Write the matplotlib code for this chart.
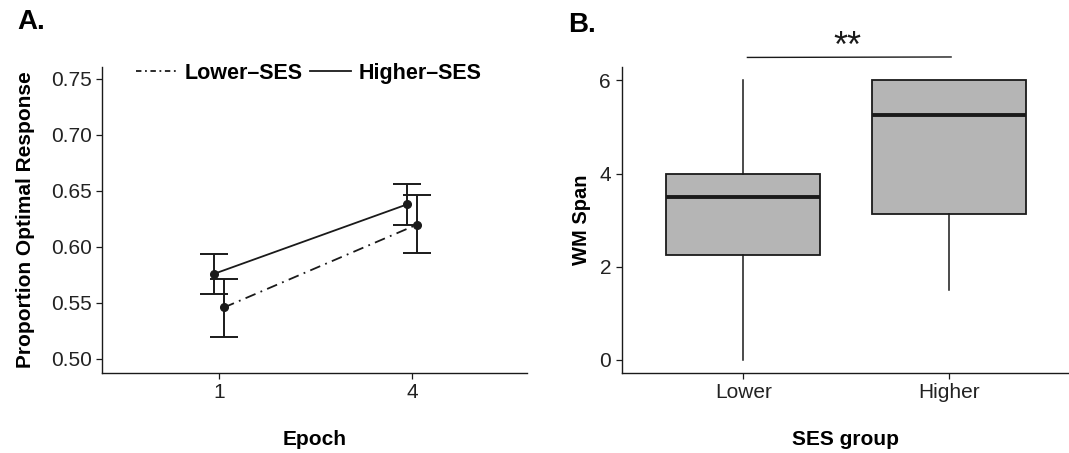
import numpy as np
import matplotlib.pyplot as plt
from matplotlib.lines import Line2D

plt.rcParams['font.family'] = ['Liberation Sans', 'DejaVu Sans']

# Panel A: proportion optimal response by epoch
epochs = ['1', '4']
higher_mean = [0.576, 0.638]
higher_lo = [0.558, 0.620]
higher_hi = [0.594, 0.656]
lower_mean = [0.546, 0.620]
lower_lo = [0.520, 0.595]
lower_hi = [0.571, 0.646]

# Panel B: WM span box summaries
groups = ['Lower', 'Higher']
wm_whislo = [0.0, 1.5]
wm_q1 = [2.25, 3.125]
wm_med = [3.5, 5.25]
wm_q3 = [4.0, 6.0]
wm_whishi = [6.0, 6.0]

ink = '#1a1a1a'
fig = plt.figure(figsize=(10.69, 4.53), dpi=100)
axA = fig.add_axes([102/1069, 1-373/453, (527-102)/1069, (373-67)/453])
axB = fig.add_axes([621.5/1069, 1-373/453, (1069-621.5)/1069, (373-67)/453])

for ax in (axA, axB):
    for s in ('top', 'right'):
        ax.spines[s].set_visible(False)
    for s in ('left', 'bottom'):
        ax.spines[s].set_linewidth(1.0)
        ax.spines[s].set_color(ink)
    ax.tick_params(labelsize=15, length=4, width=0.9, color=ink, labelcolor='#222222')

# ---- Panel A
xpos = np.arange(len(epochs))
dodge = 0.026
xh = xpos - dodge
xl = xpos + dodge
axA.errorbar(xh, higher_mean,
             yerr=[np.array(higher_mean) - higher_lo, np.array(higher_hi) - higher_mean],
             fmt='none', ecolor=ink, elinewidth=1.4, capsize=10, capthick=1.4)
axA.errorbar(xl, lower_mean,
             yerr=[np.array(lower_mean) - lower_lo, np.array(lower_hi) - lower_mean],
             fmt='none', ecolor=ink, elinewidth=1.4, capsize=10, capthick=1.4)
axA.plot(xh, higher_mean, color=ink, lw=1.3, ls='-', marker='o', ms=5.5)
axA.plot(xl, lower_mean, color=ink, lw=1.3, ls=(0, (6, 3, 1, 3)), marker='o', ms=5.5)
axA.set_xlim(-0.606, 1.596)
axA.set_ylim(0.4875, 0.7607)
axA.set_xticks(xpos)
axA.set_xticklabels(epochs)
axA.set_yticks([0.50, 0.55, 0.60, 0.65, 0.70, 0.75])
axA.set_yticklabels(['0.50', '0.55', '0.60', '0.65', '0.70', '0.75'])
axA.set_xlabel('Epoch', fontsize=15, fontweight='bold', labelpad=20)
axA.set_ylabel('Proportion Optimal Response', fontsize=15, fontweight='bold', labelpad=11)

# legend: dash-dot Lower first, then solid Higher
hnd = [Line2D([], [], color=ink, lw=1.3, ls=(0, (3, 2, 1, 2))),
       Line2D([], [], color=ink, lw=1.3, ls='-')]
axA.legend(hnd, ['Lower\u2013SES', 'Higher\u2013SES'], ncol=2, frameon=False,
           loc='center', bbox_to_anchor=(0.487, 0.98), prop={'weight': 'bold', 'size': 15.5},
           handlelength=1.9, handletextpad=0.35, columnspacing=0.35, borderaxespad=0)

fig.text(17/1069, 1-22/453, 'A.', fontsize=20, fontweight='bold', va='center', ha='left')

# ---- Panel B
stats = []
for i in range(len(groups)):
    stats.append({'label': groups[i], 'whislo': wm_whislo[i], 'q1': wm_q1[i],
                  'med': wm_med[i], 'q3': wm_q3[i], 'whishi': wm_whishi[i], 'fliers': []})
axB.bxp(stats, positions=np.arange(len(groups)), widths=0.75, patch_artist=True,
        showcaps=False,
        boxprops=dict(facecolor='#b5b5b5', edgecolor=ink, linewidth=1.3),
        medianprops=dict(color=ink, linewidth=2.8),
        whiskerprops=dict(color=ink, linewidth=1.1))
axB.set_xlim(-0.592, 1.583)
axB.set_ylim(-0.28, 6.285)
axB.set_yticks([0, 2, 4, 6])
axB.set_xticks(np.arange(len(groups)))
axB.set_xticklabels(groups)
axB.set_xlabel('SES group', fontsize=15, fontweight='bold', labelpad=20)
axB.set_ylabel('WM Span', fontsize=14.5, fontweight='bold', labelpad=6)

axB.plot([0.02, 1.01], [6.49, 6.50], color=ink, lw=1.0, clip_on=False)
axB.text(0.505, 6.32, '**', fontsize=26, ha='center', va='bottom', color=ink, clip_on=False)

fig.text(568/1069, 1-25/453, 'B.', fontsize=20, fontweight='bold', va='center', ha='left')

fig.savefig('out.png', dpi=100, facecolor='white')
